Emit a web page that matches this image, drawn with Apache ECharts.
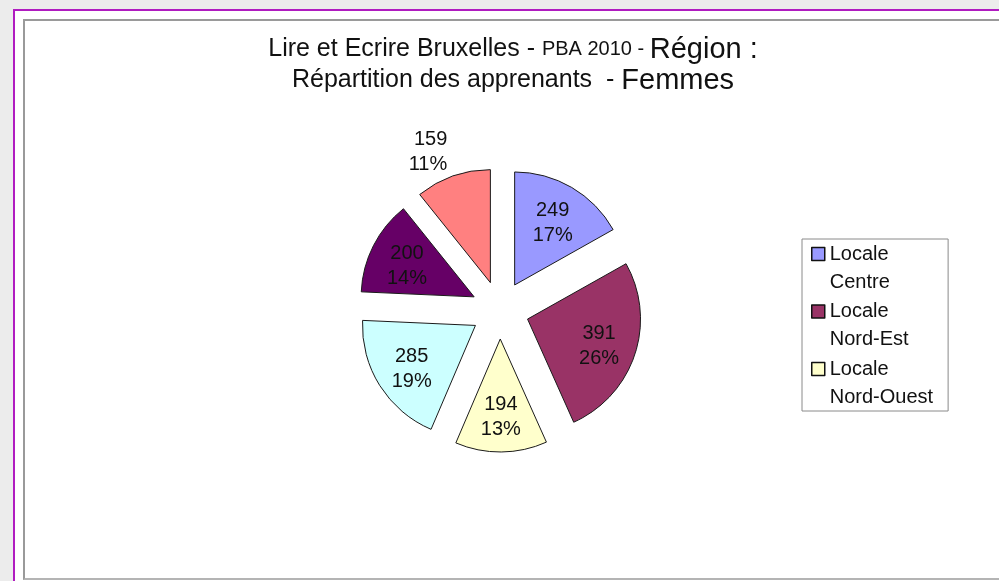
<!DOCTYPE html>
<html>
<head>
<meta charset="utf-8">
<script src="https://cdn.jsdelivr.net/npm/echarts@6/dist/echarts.min.js"></script>
<style>
html,body{margin:0;padding:0;width:999px;height:581px;overflow:hidden;background:#ececec;}
#frame{position:absolute;left:13px;top:9px;right:-10px;bottom:-10px;border-left:2px solid #b01cc0;border-top:2px solid #b01cc0;background:#fff;}
#inner{position:absolute;left:23px;top:19px;right:-10px;height:557px;border-left:2px solid #9a9a9a;border-top:2px solid #9a9a9a;border-bottom:2px solid #b4b4b4;background:#fff;}
#chart{position:absolute;left:0;top:0;width:999px;height:581px;}
</style>
</head>
<body>
<div id="frame"></div>
<div id="inner"></div>
<div id="chart"></div>
<script>
// ---- data ----
const categories = ['Locale Centre', 'Locale Nord-Est', 'Locale Nord-Ouest', 'Locale Sud', 'Locale Sud-Est', 'Locale Sud-Ouest'];
const values = [249, 391, 194, 285, 200, 159];
const legendNames = ['Locale Centre', 'Locale Nord-Est', 'Locale Nord-Ouest'];
const titleLine1 = ['Lire et Ecrire Bruxelles - ', 'PBA 2010 - ', 'Région :'];
const titleLine2 = ['Répartition des apprenants  - ', 'Femmes'];

// ---- style ----
const palette = ['#9999FF', '#993366', '#FFFFCC', '#CCFFFF', '#660066', '#FF8080'];
const outsideLabelIdx = [5];
const pieCenter = [500, 310];
const pieRadius = 113;
const FONT = 'Liberation Sans';

const chart = echarts.init(document.getElementById('chart'), null, {renderer: 'canvas'});
const option = {
  animation: false,
  backgroundColor: 'transparent',
  title: {
    text: '{a|' + titleLine1[0] + '}{b|' + titleLine1[1] + '}{c|' + titleLine1[2] + '}\n{a|' + titleLine2[0] + '}{c|' + titleLine2[1] + '}',
    left: 513,
    textAlign: 'center',
    top: 34,
    padding: 0,
    textStyle: {
      fontWeight: 'normal',
      rich: {
        a: {fontFamily: FONT, fontSize: 25, fontWeight: 'normal', color: '#111', lineHeight: 31},
        b: {fontFamily: FONT, fontSize: 20, fontWeight: 'normal', color: '#111', lineHeight: 31},
        c: {fontFamily: FONT, fontSize: 29, fontWeight: 'normal', color: '#111', lineHeight: 31}
      }
    }
  },
  legend: {
    data: legendNames,
    orient: 'vertical',
    left: 802,
    top: 239,
    padding: [-27, 15, 0, 9],
    itemWidth: 13,
    itemHeight: 13,
    itemGap: -26.5,
    icon: 'rect',
    selectedMode: false,
    backgroundColor: '#fff',
    borderColor: '#8a8a8a',
    borderWidth: 1,
    itemStyle: {borderColor: '#111', borderWidth: 1.5},
    formatter: function (n) { return '\n' + n.replace(' ', '\n'); },
    textStyle: {fontFamily: FONT, fontSize: 20, lineHeight: 28, color: '#111'}
  },
  series: [{
    type: 'pie',
    center: pieCenter,
    radius: pieRadius,
    startAngle: 90,
    clockwise: true,
    selectedMode: 'multiple',
    selectedOffset: 29,
    avoidLabelOverlap: false,
    percentPrecision: 0,
    itemStyle: {borderColor: '#1a1a1a', borderWidth: 1},
    label: {
      show: true,
      position: 'inside',
      formatter: '{c}\n{d}%',
      fontFamily: FONT,
      fontSize: 20,
      lineHeight: 25,
      color: '#111',
      textBorderWidth: 0
    },
    labelLine: {show: false, length: 2, length2: 0},
    emphasis: {disabled: true},
    select: {itemStyle: {borderColor: '#1a1a1a', borderWidth: 1}},
    labelLayout: function (p) {
      if (outsideLabelIdx.indexOf(p.dataIndex) >= 0) {
        return {verticalAlign: 'bottom', dy: 3};
      }
      const r = p.labelRect;
      const lx = r.x + r.width / 2, ly = r.y + r.height / 2;
      const dx = lx - pieCenter[0], dy = ly - pieCenter[1];
      const d = Math.hypot(dx, dy) || 1;
      const s = pieRadius * 0.14;
      return {dx: dx / d * s, dy: dy / d * s + 3};
    },
    data: values.map(function (v, i) {
      const item = {name: categories[i], value: v, selected: true, itemStyle: {color: palette[i]}};
      if (outsideLabelIdx.indexOf(i) >= 0) {
        item.label = {position: 'outside'};
      }
      return item;
    })
  }]
};
chart.setOption(option);
</script>
</body>
</html>
